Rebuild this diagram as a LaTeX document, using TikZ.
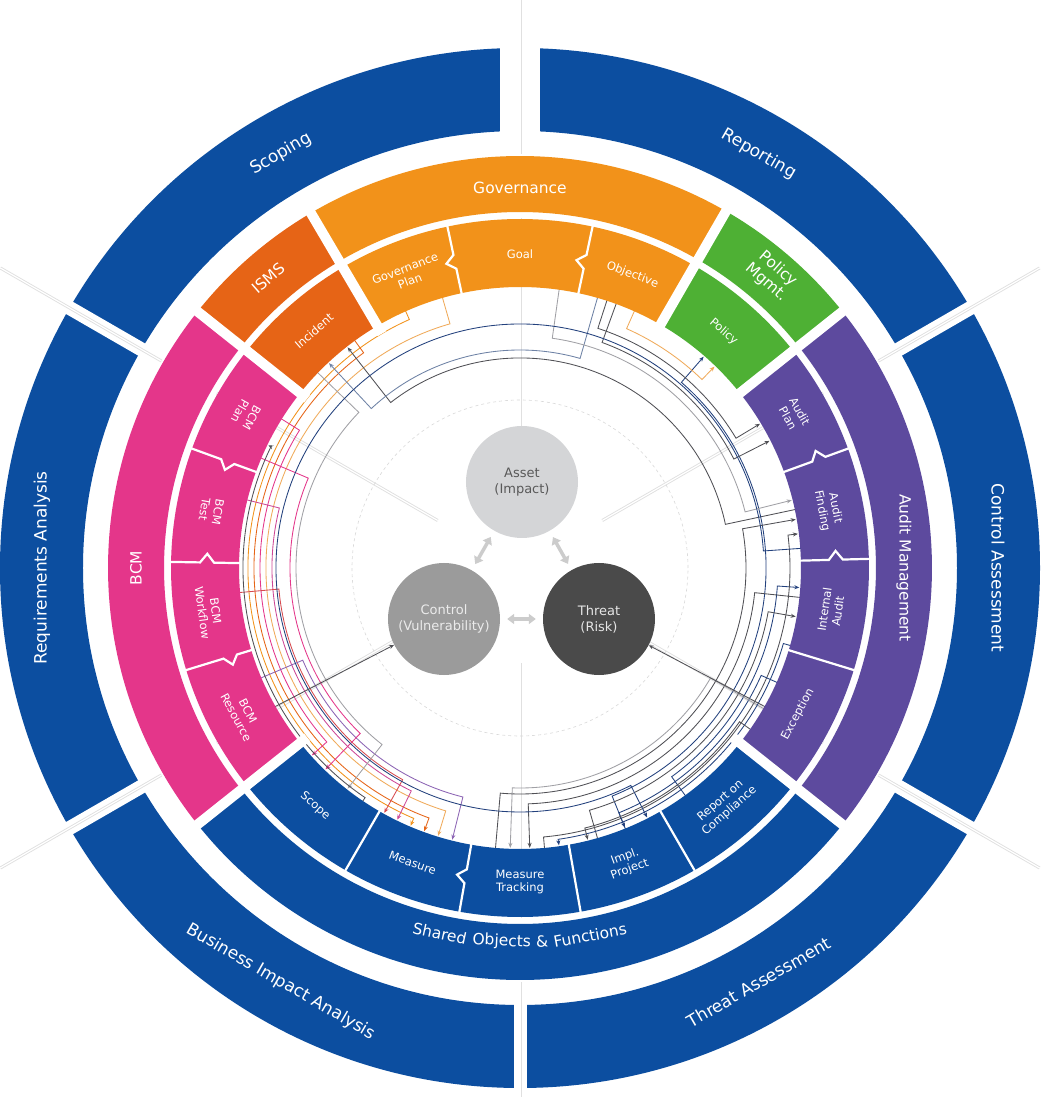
\documentclass[tikz,border=0pt]{standalone}
\usepackage{fontspec}
\setmainfont{DejaVu Sans}
\usetikzlibrary{arrows.meta,calc}

\definecolor{outerblue}{RGB}{12,78,160}
\definecolor{govor}{RGB}{242,146,26}
\definecolor{ismsor}{RGB}{230,100,22}
\definecolor{bcmpink}{RGB}{228,54,138}
\definecolor{polgreen}{RGB}{78,176,52}
\definecolor{audpurple}{RGB}{93,74,158}
\definecolor{assetgray}{RGB}{212,213,215}
\definecolor{ctrlgray}{RGB}{155,155,155}
\definecolor{threatgray}{RGB}{74,74,74}
\definecolor{cdark}{RGB}{80,80,85}
\definecolor{cgray}{RGB}{160,160,165}
\definecolor{cblue}{RGB}{35,65,125}
\definecolor{cbluegray}{RGB}{110,130,165}
\definecolor{clor}{RGB}{240,170,90}
\definecolor{cpurple}{RGB}{140,100,180}
\definecolor{cmag}{RGB}{205,70,150}
\definecolor{cred}{RGB}{215,75,80}

\newcommand\ringseg[5]{\fill[#1] (#2:#4) arc[start angle=#2, end angle=#3, radius=#4] -- (#3:#5) arc[start angle=#3, end angle=#2, radius=#5] -- cycle;}
\newcommand\cnx[4]{\draw[conn,#1] (#2:283) -- (#2:#4) arc[start angle=#2, end angle=#3, radius=#4] -- (#3:280);}
\newcommand\notchdiv[3]{\draw[divider] (#1:279) -- (#1:{#2-7}) -- ({#1+#3*1.6}:#2) -- (#1:{#2+7}) -- (#1:350);}
\newcommand\plaindiv[1]{\draw[divider] (#1:279) -- (#1:350);}

\begin{document}
\begin{tikzpicture}[x=1pt,y=1pt,
  outtxt/.style={text=white, font=\fontsize{17}{20}\selectfont},
  maintxt/.style={text=white, font=\fontsize{15.5}{18}\selectfont, align=center},
  subtxt/.style={text=white, font=\fontsize{11.5}{13.5}\selectfont, align=center},
  circtxt/.style={circle, minimum size=112pt, inner sep=0pt, align=center, font=\fontsize{13}{16}\selectfont},
  conn/.style={line width=0.85pt, -{Stealth[length=5pt,width=4pt]}},
  faintline/.style={draw=black!12, line width=0.9pt, double=white, double distance=1.2pt},
  dblarrow/.style={draw=black!20, line width=3.5pt, {Triangle[length=7pt,width=10pt]}-{Triangle[length=7pt,width=10pt]}, shorten <=7pt, shorten >=7pt},
  divider/.style={draw=white, line width=2.2pt},
]
\useasboundingbox (-520,-529) rectangle (523,568);
\fill[white] (-520,-529) rectangle (523,568);
\clip (-520,-529) rectangle (523,568);

% faint guide lines and circle
\foreach \a in {30,90,150,210,270,330} \draw[faintline] (\a:95) -- (\a:350);
\draw[black!15, dashed, line width=0.6pt] (0,0) circle[radius=168];

% connectors (left bundle)
\cnx{govor}{114}{247}{272}
\cnx{ismsor}{126}{250}{266}
\cnx{bcmpink}{148}{222}{260}
\cnx{clor}{106}{253}{254}
\cnx{cmag}{166}{244}{248}
\cnx{cred}{185}{241}{242}
\cnx{cpurple}{203}{256}{236}
\cnx{bcmpink}{157}{226}{230}
\cnx{cgray}{136}{232}{224}
\cnx{cdark}{236}{154}{277}
% into Incident
\cnx{cdark}{12}{128}{210}
\cnx{cbluegray}{74}{133}{218}
% right bundle
\cnx{cblue}{292}{409}{246}
\cnx{clor}{66}{46}{262}
\cnx{cdark}{72}{31}{252}
\cnx{cdark}{70}{27}{240}
\cnx{cgray}{82}{14}{232}
\cnx{cdark}{265}{370}{226}
\cnx{cblue}{306}{356}{258}
\cnx{cdark}{286}{350}{252}
\cnx{cdark}{275}{367}{270}
\cnx{cdark}{354}{272}{236}
\cnx{cblue}{336}{292}{264}
\cnx{cgray}{330}{268}{220}
\cnx{cblue}{344}{278}{274}
\cnx{cdark}{325}{284}{268}
\cnx{cblue}{4}{297}{244}

% central circles
\node[circtxt, fill=assetgray, text=black!65] (asset) at (2,86) {Asset\\(Impact)};
\node[circtxt, fill=ctrlgray, text=black!8] (control) at (-76,-51) {Control\\(Vulnerability)};
\node[circtxt, fill=threatgray, text=black!10] (threat) at (79,-51) {Threat\\(Risk)};
\draw[dblarrow] (asset) -- (control);
\draw[dblarrow] (asset) -- (threat);
\draw[dblarrow] (control) -- (threat);
\coordinate (excsrc) at (-29.5:283);
\coordinate (ressrc) at (209.5:283);
\draw[conn, cdark] (excsrc) -- (threat);
\draw[conn, cdark] (ressrc) -- (control);

% outer ring
\fill[outerblue, even odd rule] (0,0) circle[radius=520] (0,0) circle[radius=437];
\foreach \a in {30,150,210,330} \draw[white, line width=14pt] (\a:428) -- (\a:540);
\draw[white, line width=40pt] (90:428) -- (90:540);
\draw[white, line width=13pt] (270:428) -- (270:540);
\foreach \a in {30,90,150,210,270,330} \draw[faintline] (\a:414) -- (\a:600);

% main ring
\ringseg{govor}{60}{120.5}{356}{412}
\ringseg{ismsor}{120.5}{141.5}{356}{412}
\ringseg{bcmpink}{141.5}{218.5}{356}{412}
\ringseg{outerblue}{218.5}{321.5}{356}{412}
\ringseg{audpurple}{-38.5}{38.5}{356}{412}
\ringseg{polgreen}{38.5}{60}{356}{412}
% sub ring
\ringseg{govor}{60}{120.5}{281}{349}
\ringseg{ismsor}{120.5}{141.5}{281}{349}
\ringseg{bcmpink}{141.5}{218.5}{281}{349}
\ringseg{outerblue}{218.5}{321.5}{281}{349}
\ringseg{audpurple}{-38.5}{38.5}{281}{349}
\ringseg{polgreen}{38.5}{60}{281}{349}
\foreach \a in {38.5,60,120.5,141.5,218.5,321.5} \draw[white, line width=10pt] (\a:272) -- (\a:420);

% sub dividers
\notchdiv{102}{313}{1}
\notchdiv{78}{313}{1}
\notchdiv{160}{311}{1}
\notchdiv{179}{313}{-1}
\notchdiv{197}{303}{1}
\notchdiv{20}{318}{1}
\notchdiv{1.5}{316}{1}
\plaindiv{-17}
\plaindiv{240}
\notchdiv{260}{313}{-1}
\plaindiv{280}
\plaindiv{300}

% outer labels
\node[outtxt, rotate=30] (scoping) at (120:478) {Scoping};
\node[outtxt, rotate=-30] (reporting) at (60:478) {Reporting};
\node[outtxt, rotate=-90] (ctrlass) at (0:478) {Control Assessment};
\node[outtxt, rotate=30] (threatass) at (300:478) {Threat Assessment};
\node[outtxt, rotate=-30] (bia) at (240:478) {Business Impact Analysis};
\node[outtxt, rotate=90] (reqan) at (180:478) {Requirements Analysis};

% main labels
\node[maintxt] (gov) at (90:380) {Governance};
\node[maintxt, rotate=41] (isms) at (131:384) {ISMS};
\node[maintxt, rotate=-41] (polm) at (49.25:386) {Policy\\Mgmt.};
\node[maintxt, rotate=90] (bcm) at (180:384) {BCM};
\node[maintxt, rotate=-90] (audm) at (0:384) {Audit Management};
% curved label, word by word along the arc
\node[maintxt, inner sep=0pt, rotate=-12.4] (shw1) at (257.6:374) {Shared};
\node[maintxt, inner sep=0pt, rotate=-2.8] (shw2) at (267.2:374) {Objects};
\node[maintxt, inner sep=0pt, rotate=3.4] (shw3) at (273.4:374) {\&};
\node[maintxt, inner sep=0pt, rotate=10.8] (shw4) at (280.8:374) {Functions};

% sub labels
\node[subtxt, rotate=21] (govplan) at (111:314) {Governance\\Plan};
\node[subtxt] (goal) at (90:314) {Goal};
\node[subtxt, rotate=-21] (objective) at (69:314) {Objective};
\node[subtxt, rotate=41] (incident) at (131:314) {Incident};
\node[subtxt, rotate=-41] (policy) at (49.25:312) {Policy};
\node[subtxt, rotate=-119] (bcmplan) at (150.75:314) {BCM\\Plan};
\node[subtxt, rotate=-100] (bcmtest) at (169.5:314) {BCM\\Test};
\node[subtxt, rotate=-82] (bcmwf) at (188:314) {BCM\\Workflow};
\node[subtxt, rotate=-62] (bcmres) at (207.75:314) {BCM\\Resource};
\node[subtxt, rotate=-61] (audplan) at (29.25:314) {Audit\\Plan};
\node[subtxt, rotate=-79] (audfind) at (10.75:314) {Audit\\Finding};
\node[subtxt, rotate=82] (intaud) at (-7.75:314) {Internal\\Audit};
\node[subtxt, rotate=62] (exception) at (-27.75:314) {Exception};
\node[subtxt, rotate=-41] (scope) at (229.25:314) {Scope};
\node[subtxt, rotate=-20] (measure) at (250:314) {Measure};
\node[subtxt] (tracking) at (270:314) {Measure\\Tracking};
\node[subtxt, rotate=20] (impl) at (290:314) {Impl.\\Project};
\node[subtxt, rotate=41] (report) at (310.75:314) {Report on\\Compliance};
\end{tikzpicture}
\end{document}
